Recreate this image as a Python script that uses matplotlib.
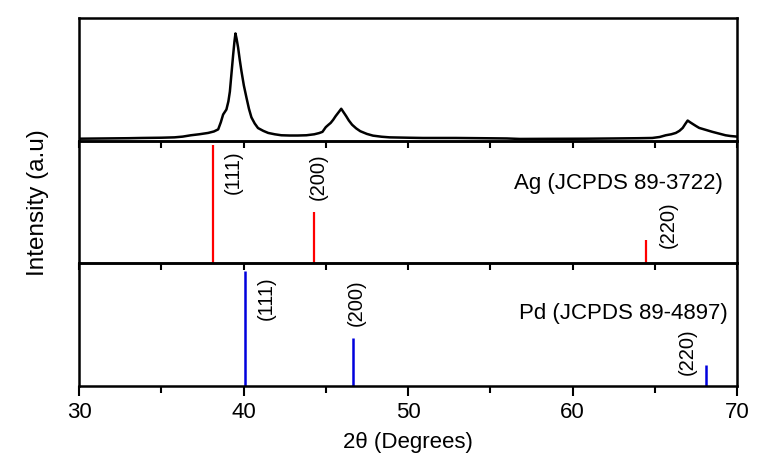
import numpy as np
import matplotlib
matplotlib.use("Agg")
import matplotlib.pyplot as plt

plt.rcParams['font.family'] = ['Liberation Sans', 'DejaVu Sans']

two_theta = [30.0, 31.5, 33.0, 33.8, 35.0, 35.8, 36.3, 36.8, 37.3, 37.85, 38.2, 38.46,
             38.62, 38.76, 38.96, 39.08, 39.17, 39.27, 39.37, 39.45, 39.51, 39.58,
             39.67, 39.77, 39.87, 40.02, 40.18, 40.33, 40.48, 40.68, 40.88, 41.2,
             41.5, 41.9, 42.3, 42.8, 43.3, 43.82, 44.3, 44.6, 44.8, 45.0, 45.15,
             45.3, 45.45, 45.6, 45.8, 45.94, 46.08, 46.24, 46.4, 46.6, 46.85, 47.1,
             47.5, 47.87, 48.4, 48.88, 50.0, 50.9, 52.0, 52.9, 54.5, 56.0, 56.8,
             58.5, 60.8, 62.5, 64.0, 64.85, 65.3, 65.67, 66.0, 66.28, 66.5, 66.7,
             66.85, 67.0, 67.15, 67.3, 67.5, 67.7, 68.1, 68.5, 68.9, 69.3, 69.6, 70.0]
counts = [16, 18, 20, 22, 24, 27, 33, 44, 52, 63, 75, 92,
          150, 213, 254, 320, 400, 550, 700, 810, 874, 830,
          760, 660, 570, 450, 350, 260, 190, 140, 103, 80,
          63, 52, 44, 42, 42, 44, 52, 62, 72, 110, 128,
          145, 170, 200, 235, 260, 232, 200, 165, 130, 100, 77,
          55, 41, 32, 27, 24, 22, 22, 22, 20, 18, 14,
          15, 16, 18, 20, 22, 30, 44, 52, 63, 80, 104,
          135, 164, 150, 137, 120, 104, 88, 72, 58, 44, 38, 33]

# reference patterns
ag_pos = [38.15, 44.3, 64.45]
ag_int = [100, 43, 19.5]
ag_hkl = ['(111)', '(200)', '(220)']
pd_pos = [40.12, 46.65, 68.1]
pd_int = [100, 41.5, 18]
pd_hkl = ['(111)', '(200)', '(220)']

fig = plt.figure(figsize=(7.65, 4.6), dpi=100)
ax1, ax2, ax3 = fig.subplots(3, 1, sharex=True)
fig.subplots_adjust(left=0.1033, right=0.9634, top=0.9587, bottom=0.1587, hspace=0)

ax1.plot(two_theta, counts, color='black', lw=1.8)
ax1.set_ylim(0, 1000)

ax2.vlines(ag_pos, 0, ag_int, color='#ff0000', lw=1.6)
ax2.set_ylim(0, 103.4)
ax3.vlines(pd_pos, 0, pd_int, color='#0000dd', lw=1.8)
ax3.set_ylim(0, 106.4)

# hkl labels
for x, s, yf in zip([39.4, 44.55, 65.8], ag_hkl, [0.75, 0.715, 0.32]):
    ax2.text(x, yf, s, transform=ax2.get_xaxis_transform(), rotation=90,
             ha='center', va='center', fontsize=14.5)
for x, s, yf in zip([41.4, 46.85, 66.95], pd_hkl, [0.72, 0.69, 0.284]):
    ax3.text(x, yf, s, transform=ax3.get_xaxis_transform(), rotation=90,
             ha='center', va='center', fontsize=14.5)
ax2.text(69.15, 0.656, 'Ag (JCPDS 89-3722)', transform=ax2.get_xaxis_transform(),
         ha='right', va='center', fontsize=16)
ax3.text(69.45, 0.60, 'Pd (JCPDS 89-4897)', transform=ax3.get_xaxis_transform(),
         ha='right', va='center', fontsize=16)

for ax in (ax1, ax2, ax3):
    ax.set_xlim(30, 70)
    ax.set_yticks([])
    ax.set_facecolor('none')
    for sp in ax.spines.values():
        sp.set_linewidth(1.8)

ax3.set_xticks([30, 40, 50, 60, 70])
ax3.set_xticks([35, 45, 55, 65], minor=True)
# ticks below the upper panels poke down into the next panel
for ax in (ax1, ax2):
    ax.tick_params(axis='x', which='both', direction='out', length=5, width=1.5,
                   labelbottom=False)
ax3.tick_params(axis='x', which='major', direction='out', length=7, width=1.5,
                labelsize=16, pad=4)
ax3.tick_params(axis='x', which='minor', direction='out', length=5, width=1.5)

ax3.set_xlabel('2θ (Degrees)', fontsize=16, labelpad=6)
fig.text(0.05, 0.56, 'Intensity (a.u)', rotation=90, ha='center', va='center',
         fontsize=17.5)

fig.savefig('out.png', dpi=100)
